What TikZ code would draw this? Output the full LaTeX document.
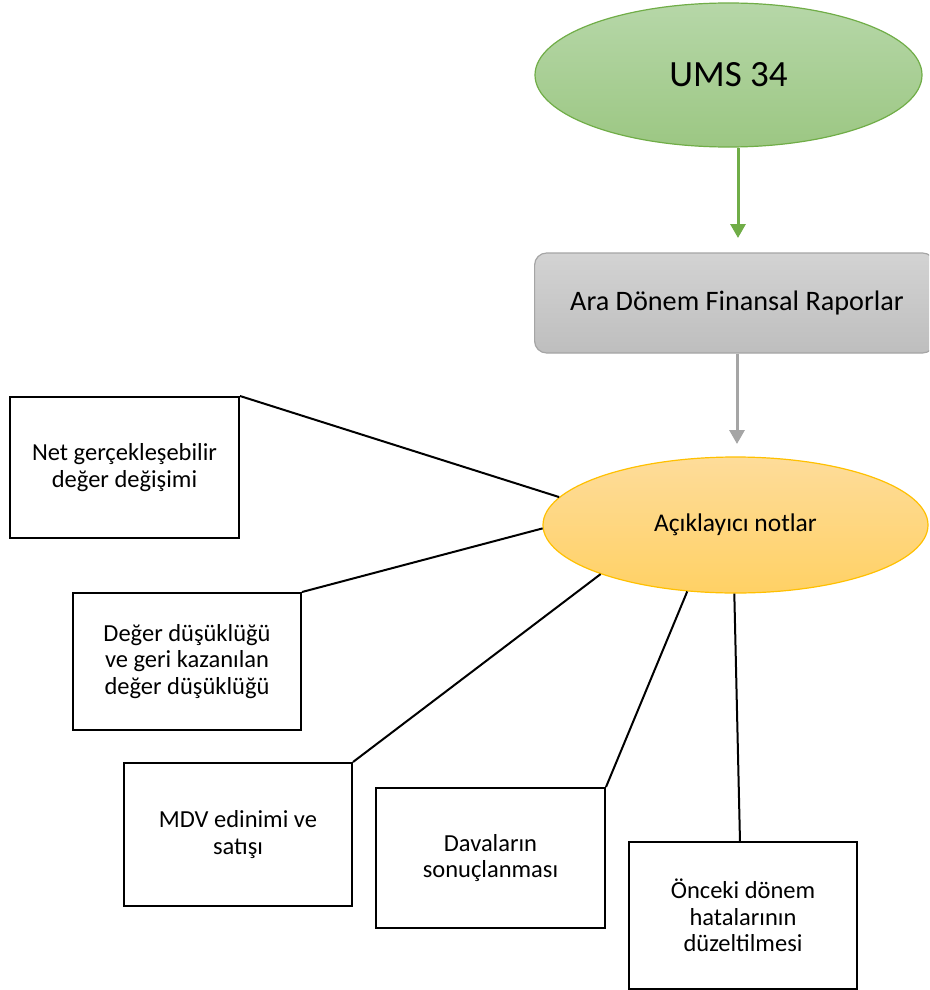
\documentclass[tikz,border=0pt]{standalone}
\usepackage{fontspec}
\setmainfont{Carlito}
\usetikzlibrary{arrows.meta,shapes.geometric}
\definecolor{gfill1}{HTML}{B6D7A8}
\definecolor{gfill2}{HTML}{9CC783}
\definecolor{gline}{HTML}{70AD47}
\definecolor{grfill1}{HTML}{D3D3D3}
\definecolor{grfill2}{HTML}{BEBEBE}
\definecolor{grline}{HTML}{A5A5A5}
\definecolor{ofill1}{HTML}{FEDC9A}
\definecolor{ofill2}{HTML}{FFD165}
\definecolor{oline}{HTML}{FFC000}
\tikzset{
  notebox/.style={draw=black, line width=2pt, fill=white, align=center, font=\fontsize{24.5}{26.5}\selectfont, inner sep=0pt},
  link/.style={draw=black, line width=2pt},
}
\begin{document}
\begin{tikzpicture}[x=1pt,y=-1pt]
\clip (0,0) rectangle (929,990);
\fill[white] (0,0) rectangle (929,990);
\node[ellipse, draw=gline, line width=1.2pt, top color=gfill1, bottom color=gfill2, minimum width=387pt, minimum height=144pt, inner sep=0pt, font=\fontsize{37}{44}\selectfont] (ums) at (728.5,75) {UMS 34};
\node[rounded corners=12pt, draw=grline, line width=1.2pt, top color=grfill1, bottom color=grfill2, minimum width=400pt, minimum height=100pt, inner sep=0pt, anchor=west] (adf) at (534,303) {};
\node[font=\fontsize{28.2}{33}\selectfont] (adft) at (737,303) {Ara Dönem Finansal Raporlar};
\node[ellipse, draw=oline, line width=1.2pt, top color=ofill1, bottom color=ofill2, minimum width=385pt, minimum height=136pt, inner sep=0pt, font=\fontsize{25.5}{30}\selectfont] (ell) at (735.5,525) {Açıklayıcı notlar};
\coordinate (a1) at (738,238);
\coordinate (a2) at (737,444);
\draw[gline, line width=3pt, -{Triangle[length=14pt,width=15pt]}] (ums.south -| a1) -- (a1);
\draw[grline, line width=3pt, -{Triangle[length=14pt,width=15pt]}] (adf.south -| a2) -- (a2);
\node[notebox, minimum width=229pt, minimum height=141pt] (b1) at (124.5,467.5) {Net gerçekleşebilir\\değer değişimi};
\node[notebox, minimum width=228pt, minimum height=137pt] (b2) at (187,661.5) {Değer düşüklüğü\\ve geri kazanılan\\değer düşüklüğü};
\node[notebox, minimum width=228pt, minimum height=143pt] (b3) at (238,834.5) {MDV edinimi ve\\satışı};
\node[notebox, minimum width=229pt, minimum height=140pt] (b4) at (490.5,858) {Davaların\\sonuçlanması};
\node[notebox, minimum width=228pt, minimum height=147pt] (b5) at (743,915.5) {Önceki dönem\\hatalarının\\düzeltilmesi};
\coordinate (b5top) at (740,842);
\draw[link] (b1.north east) -- (ell.171);
\draw[link] (b2.north east) -- (ell.181);
\draw[link] (b3.north east) -- (ell.200);
\draw[link] (b4.north east) -- (ell.234.5);
\draw[link] (b5top) -- (ell.269);
\end{tikzpicture}
\end{document}
